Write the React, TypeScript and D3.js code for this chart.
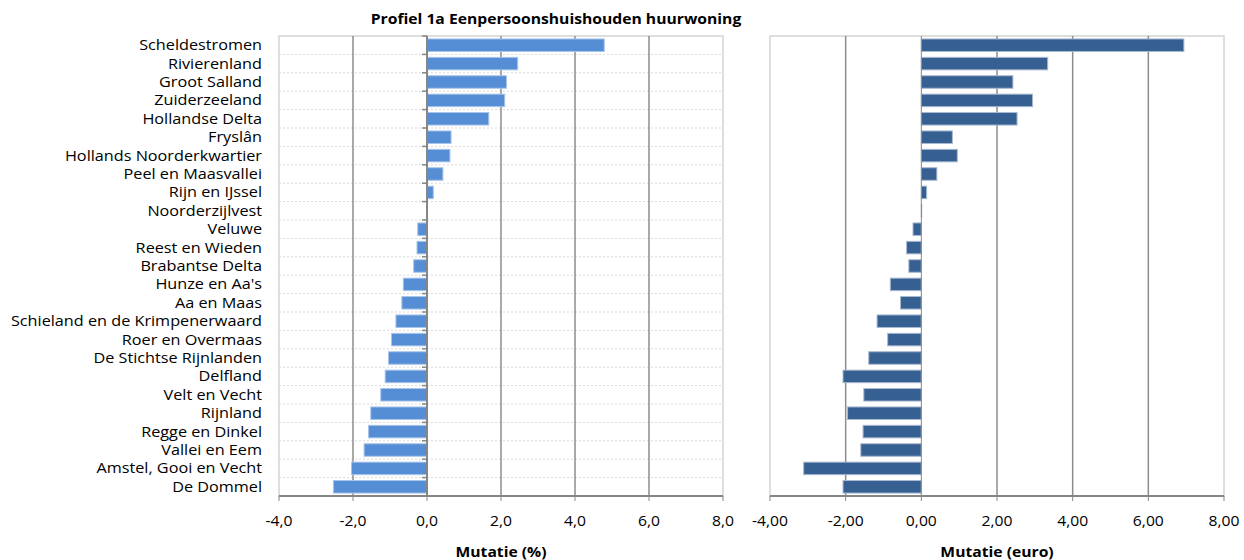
import React from "react";
import * as d3 from "d3";

const categories = [
  "Scheldestromen",
  "Rivierenland",
  "Groot Salland",
  "Zuiderzeeland",
  "Hollandse Delta",
  "Fryslân",
  "Hollands Noorderkwartier",
  "Peel en Maasvallei",
  "Rijn en IJssel",
  "Noorderzijlvest",
  "Veluwe",
  "Reest en Wieden",
  "Brabantse Delta",
  "Hunze en Aa's",
  "Aa en Maas",
  "Schieland en de Krimpenerwaard",
  "Roer en Overmaas",
  "De Stichtse Rijnlanden",
  "Delfland",
  "Velt en Vecht",
  "Rijnland",
  "Regge en Dinkel",
  "Vallei en Eem",
  "Amstel, Gooi en Vecht",
  "De Dommel",
];

// mutatie in procenten
const mutatiePct = [
  4.79, 2.45, 2.15, 2.1, 1.67, 0.65, 0.62, 0.43, 0.17, 0.0, -0.25, -0.27, -0.36,
  -0.64, -0.68, -0.84, -0.96, -1.04, -1.13, -1.25, -1.52, -1.58, -1.7, -2.04,
  -2.53,
];

// mutatie in euro
const mutatieEuro = [
  6.94, 3.34, 2.42, 2.94, 2.53, 0.82, 0.95, 0.41, 0.14, 0.01, -0.22, -0.39,
  -0.33, -0.82, -0.55, -1.17, -0.89, -1.39, -2.07, -1.52, -1.95, -1.54, -1.6,
  -3.11, -2.07,
];

const xTicks = [-4, -2, 0, 2, 4, 6, 8];

const FONT = "'Open Sans', Lato, sans-serif";
const SX = 1.12; // text in the original is a bit wider than Open Sans

// text stretched horizontally, anchored at (x, y)
const T = ({ x, y, anchor = "middle", size = 14, bold = false, dy, children }: any) => (
  <text
    transform={`translate(${x},${y}) scale(${SX},1)`}
    textAnchor={anchor}
    fontSize={size}
    fontWeight={bold ? "bold" : "normal"}
    dy={dy}
    fill="#000"
  >
    {children}
  </text>
);

type PanelProps = {
  values: number[];
  x0: number;
  x1: number;
  fill: string;
  stroke: string;
  decimals: number;
  title: string;
  hGrid: boolean;
  yTicks: boolean;
};

const TOP = 36;
const BOTTOM = 496;

const Panel = ({ values, x0, x1, fill, stroke, decimals, title, hGrid, yTicks }: PanelProps) => {
  const x = d3.scaleLinear().domain([-4, 8]).range([x0, x1]);
  const y = d3.scaleBand<string>().domain(categories).range([TOP, BOTTOM]).paddingInner(0.32).paddingOuter(0.16);
  const step = y.step();
  const fmt = (v: number) => d3.format(`.${decimals}f`)(v).replace(".", ",").replace("−", "-");
  const bounds = d3.range(categories.length + 1).map((i) => TOP + i * step);

  return (
    <g>
      {/* plot border */}
      <rect x={x0} y={TOP} width={x1 - x0} height={BOTTOM - TOP} fill="none" stroke="#d4d4d4" strokeWidth={1.5} />
      {hGrid &&
        bounds.slice(1, -1).map((b, i) => (
          <line key={i} x1={x0} x2={x1} y1={b} y2={b} stroke="#d9d9d9" strokeWidth={1} strokeDasharray="2,2" />
        ))}
      {xTicks
        .filter((t) => t !== -4 && t !== 8 && t !== 0)
        .map((t) => (
          <line key={t} x1={x(t)} x2={x(t)} y1={TOP} y2={BOTTOM} stroke="#8c8c8c" strokeWidth={1.5} />
        ))}
      {values.map((v, i) => (
        <rect
          key={i}
          x={Math.min(x(0), x(v))}
          y={y(categories[i])}
          width={Math.abs(x(v) - x(0))}
          height={y.bandwidth()}
          fill={fill}
          stroke={stroke}
          strokeWidth={1}
        />
      ))}
      {/* category axis at zero */}
      <line x1={x(0)} x2={x(0)} y1={TOP} y2={BOTTOM} stroke="#868686" strokeWidth={hGrid ? 2 : 1} />
      {yTicks &&
        bounds.slice(0, -1).map((b, i) => (
          <line key={i} x1={x(0) - 5} x2={x(0)} y1={b} y2={b} stroke="#868686" strokeWidth={1.5} />
        ))}
      {/* value axis */}
      <line x1={x0} x2={x1} y1={BOTTOM} y2={BOTTOM} stroke="#868686" strokeWidth={2} />
      {xTicks.map((t) => (
        <g key={t}>
          <line x1={x(t)} x2={x(t)} y1={BOTTOM} y2={BOTTOM + 5} stroke="#868686" strokeWidth={1} />
          <T x={x(t)} y={526}>
            {fmt(t)}
          </T>
        </g>
      ))}
      <T x={(x0 + x1) / 2} y={557} bold>
        {title}
      </T>
    </g>
  );
};

const App = () => {
  const y = d3.scaleBand<string>().domain(categories).range([TOP, BOTTOM]);
  return (
    <div style={{ position: "absolute", left: 0, top: 0 }}>
      <svg width={1244} height={560} style={{ display: "block", fontFamily: FONT }}>
        <rect width={1244} height={560} fill="#fff" />
        <T x={556} y={24} bold>
          Profiel 1a Eenpersoonshuishouden huurwoning
        </T>
        {categories.map((c) => (
          <T key={c} x={262} y={(y(c) ?? 0) + y.bandwidth() / 2} dy="0.35em" anchor="end" size={14.5}>
            {c}
          </T>
        ))}
        <Panel
          values={mutatiePct}
          x0={279}
          x1={723}
          fill="#558ed5"
          stroke="#a9c4ea"
          decimals={1}
          title="Mutatie (%)"
          hGrid={true}
          yTicks={true}
        />
        <Panel
          values={mutatieEuro}
          x0={770}
          x1={1224}
          fill="#376092"
          stroke="#a7b9d1"
          decimals={2}
          title="Mutatie (euro)"
          hGrid={false}
          yTicks={false}
        />
      </svg>
    </div>
  );
};

export default App;
